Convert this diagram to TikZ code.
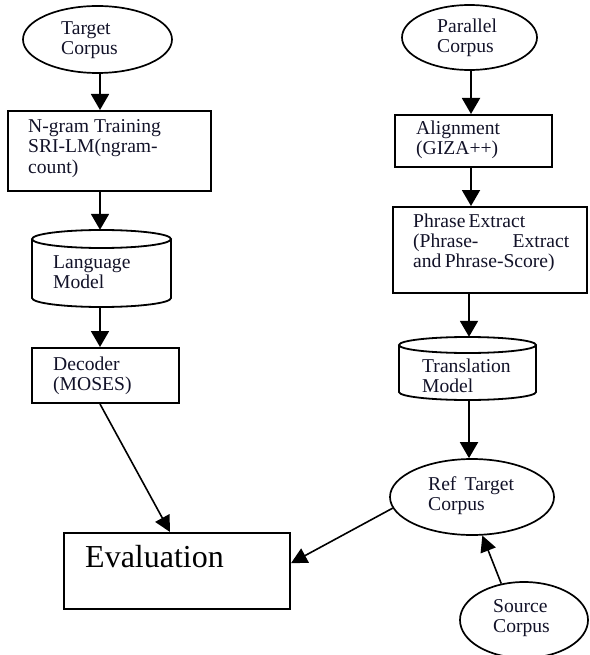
\documentclass[tikz,border=0pt]{standalone}
\usepackage{fontspec}
\setmainfont{Liberation Serif}
\usetikzlibrary{arrows.meta,calc,shapes.geometric}
\definecolor{txt}{RGB}{18,18,40}
\newcommand{\lines}[1]{\begin{tabular}[t]{@{}l@{}}#1\end{tabular}}
\begin{document}
\begin{tikzpicture}[x=1pt,y=-1pt,
  box/.style={draw,line width=2pt,rectangle,inner sep=0pt},
  oval/.style={draw,line width=1.7pt,ellipse,inner sep=0pt},
  hold/.style={rectangle,inner sep=0pt},
  cyl/.style={line width=1.8pt},
  lbl/.style={anchor=base west,inner sep=0pt,text=txt,font=\fontsize{19.6}{20}\selectfont},
  arr/.style={line width=1.9pt,-{Triangle[length=16pt,width=18pt]}},
  darr/.style={line width=1.6pt,-{Triangle[length=16pt,width=16pt]}}]
\useasboundingbox (0,0) rectangle (589,655);
% shapes
\node[oval,minimum width=149pt,minimum height=67pt] (tc) at (97.5,39.5) {};
\node[box,minimum width=203pt,minimum height=80pt] (ng) at (109.5,151) {};
\node[hold,minimum width=139pt,minimum height=77pt] (lm) at (101.5,268.5) {};
\node[box,minimum width=147pt,minimum height=55pt] (dec) at (105.5,375.5) {};
\node[box,minimum width=226pt,minimum height=76pt] (ev) at (177,571) {};
\node[oval,minimum width=135pt,minimum height=65pt] (pc) at (469.5,37.5) {};
\node[box,minimum width=157pt,minimum height=52pt] (al) at (473.5,141) {};
\node[box,minimum width=194pt,minimum height=86pt] (pe) at (490,250) {};
\node[hold,minimum width=137pt,minimum height=63pt] (tm) at (467.5,368.5) {};
\node[oval,minimum width=164pt,minimum height=76pt] (rt) at (472,497) {};
\node[oval,minimum width=128pt,minimum height=76pt] (sc) at (524,620) {};
% cylinders
\draw[cyl] (32,239) -- (32,298) arc[start angle=180,end angle=0,x radius=69.5,y radius=9] -- (171,239);
\draw[cyl] (101.5,239) ellipse[x radius=69.5,y radius=9];
\draw[cyl] (399,345) -- (399,392) arc[start angle=180,end angle=0,x radius=68.5,y radius=8] -- (536,345);
\draw[cyl] (467.5,345) ellipse[x radius=68.5,y radius=8];
% labels
\node[lbl] (tct) at (61,35) {\lines{Target\\Corpus}};
\node[lbl] (ngt) at (28,133) {\lines{N-gram Training\\SRI-LM(ngram-\\count)}};
\node[lbl] (lmt) at (53,268) {\lines{Language\\Model}};
\node[lbl] (dect) at (53,370) {\lines{Decoder\\(MOSES)}};
\node[anchor=base west,inner sep=0pt,font=\fontsize{32}{34}\selectfont] (evt) at (85,567) {Evaluation};
\node[lbl] (pct) at (437,33) {\lines{Parallel\\Corpus}};
\node[lbl] (alt) at (416,135) {\lines{Alignment\\(GIZA++)}};
\node[lbl] (pet) at (413,227) {\lines{Phrase\,Extract\\\hbox to 156pt{(Phrase-\hfill Extract}\\and\,Phrase-Score)}};
\node[lbl] (tmt) at (422,372) {\lines{Translation\\Model}};
\node[lbl] (rtt) at (428,490) {\lines{Ref\, Target\\Corpus}};
\node[lbl] (sct) at (493,612) {\lines{Source\\Corpus}};
% connectors
\coordinate (xl) at (100,0);
\coordinate (xe) at (170,0);
\coordinate (xr) at (471,0);
\coordinate (xt) at (469,0);
\draw[arr] (tc.south -| xl) -- (ng.north -| xl);
\draw[arr] (ng.south -| xl) -- (lm.north -| xl);
\draw[arr] (lm.south -| xl) -- (dec.north -| xl);
\draw[darr] (dec.south -| xl) -- (ev.north -| xe);
\draw[arr] (pc.south -| xr) -- (al.north -| xr);
\draw[arr] (al.south -| xr) -- (pe.north -| xr);
\draw[arr] (pe.south -| xt) -- (tm.north -| xt);
\draw[arr] (tm.south -| xt) -- (rt.north -| xt);
\draw[darr] (rt.188) -- ($(ev.north east)!0.4!(ev.south east)$);
\draw[darr] (sc.122) -- (rt.-75);
\end{tikzpicture}
\end{document}
